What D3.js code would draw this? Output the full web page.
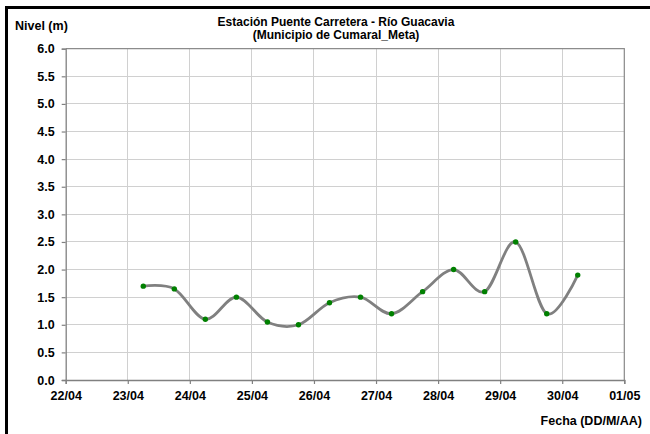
<!DOCTYPE html>
<html>
<head>
<meta charset="utf-8">
<script src="https://cdn.jsdelivr.net/npm/d3@7"></script>
<style>
  html, body { margin: 0; padding: 0; background: #fff; }
  svg { display: block; }
  text { font-family: "Liberation Sans", Arial, sans-serif; font-weight: bold; fill: #000; }
</style>
</head>
<body>
<svg id="chart" width="650" height="434"></svg>
<script>
// ---- data ----
const titleLines = ["Estación Puente Carretera - Río Guacavia", "(Municipio de Cumaral_Meta)"];
const yTitle = "Nivel (m)";
const xTitle = "Fecha (DD/M/AA)";
const times = [
  "2013-04-23T06:00", "2013-04-23T18:00",
  "2013-04-24T06:00", "2013-04-24T18:00",
  "2013-04-25T06:00", "2013-04-25T18:00",
  "2013-04-26T06:00", "2013-04-26T18:00",
  "2013-04-27T06:00", "2013-04-27T18:00",
  "2013-04-28T06:00", "2013-04-28T18:00",
  "2013-04-29T06:00", "2013-04-29T18:00",
  "2013-04-30T06:00"
];
const levels = [1.7, 1.65, 1.1, 1.5, 1.05, 1.0, 1.4, 1.5, 1.2, 1.6, 2.0, 1.6, 2.5, 1.2, 1.9];
const xDomain = ["2013-04-22T00:00", "2013-05-01T00:00"];
const yTicks = [0, 0.5, 1, 1.5, 2, 2.5, 3, 3.5, 4, 4.5, 5, 5.5, 6];

// ---- layout ----
const parse = d3.timeParse("%Y-%m-%dT%H:%M");
const data = times.map((t, i) => ({ t: parse(t), v: levels[i] }));
const svg = d3.select("#chart");
const pL = 65.7, pR = 624.3, pT = 48.7, pB = 380;

const x = d3.scaleTime().domain(xDomain.map(parse)).range([pL, pR]);
const y = d3.scaleLinear().domain([0, 6]).range([pB, pT]);
const dayTicks = d3.timeDay.range(parse(xDomain[0]), d3.timeDay.offset(parse(xDomain[1]), 1));

svg.append("rect").attr("width", 650).attr("height", 434).attr("fill", "#fff");

// outer frame (cropped)
svg.append("rect").attr("x", 6.5).attr("y", 7.5).attr("width", 800).attr("height", 600)
  .attr("fill", "none").attr("stroke", "#000").attr("stroke-width", 3);

// gridlines
const grid = svg.append("g").attr("shape-rendering", "crispEdges");
grid.selectAll(".hg").data(yTicks.filter(d => d > 0)).join("line")
  .attr("x1", pL).attr("x2", pR).attr("y1", d => y(d)).attr("y2", d => y(d))
  .attr("stroke", "#d0d0d0").attr("stroke-width", 1);
grid.selectAll(".vg").data(dayTicks.slice(1)).join("line")
  .attr("x1", d => x(d)).attr("x2", d => x(d)).attr("y1", pT).attr("y2", pB)
  .attr("stroke", "#d0d0d0").attr("stroke-width", 1);

// plot border (top & right)
svg.append("path").attr("d", `M${pL},${pT}H${pR}V${pB}`)
  .attr("fill", "none").attr("stroke", "#8c8c8c").attr("stroke-width", 1.2);

// axes
const yAxis = svg.append("g").attr("transform", `translate(${pL},0)`)
  .call(d3.axisLeft(y).tickValues(yTicks).tickFormat(d3.format(".1f")).tickSize(4).tickPadding(7));
const xAxis = svg.append("g").attr("transform", `translate(0,${pB})`)
  .call(d3.axisBottom(x).tickValues(dayTicks).tickFormat(d3.timeFormat("%d/%m")).tickSize(4).tickPadding(7));
[yAxis, xAxis].forEach(a => {
  a.select(".domain").attr("stroke", "#808080").attr("stroke-width", 1.3);
  a.selectAll(".tick line").attr("stroke", "#808080").attr("stroke-width", 1.2);
  a.selectAll(".tick text").attr("font-size", 12.5).attr("font-family", "Liberation Sans, Arial, sans-serif").attr("font-weight", "bold").attr("fill", "#000");
});

// line
const line = d3.line().x(d => x(d.t)).y(d => y(d.v)).curve(d3.curveCardinal.tension(0));
svg.append("path").datum(data).attr("d", line)
  .attr("fill", "none").attr("stroke", "#808080").attr("stroke-width", 2.8);

// markers
svg.selectAll(".pt").data(data).join("circle")
  .attr("cx", d => x(d.t)).attr("cy", d => y(d.v)).attr("r", 2.7)
  .attr("fill", "#008000");

// titles
svg.selectAll(".title").data(titleLines).join("text")
  .attr("x", 336).attr("y", (d, i) => 25.5 + i * 13.2)
  .attr("text-anchor", "middle").attr("font-size", 12).text(d => d);
svg.append("text").attr("x", 15).attr("y", 29.5).attr("font-size", 12.5).text(yTitle);
svg.append("text").attr("x", 642).attr("y", 424.5).attr("text-anchor", "end").attr("font-size", 12.5).text(xTitle);
</script>
</body>
</html>
